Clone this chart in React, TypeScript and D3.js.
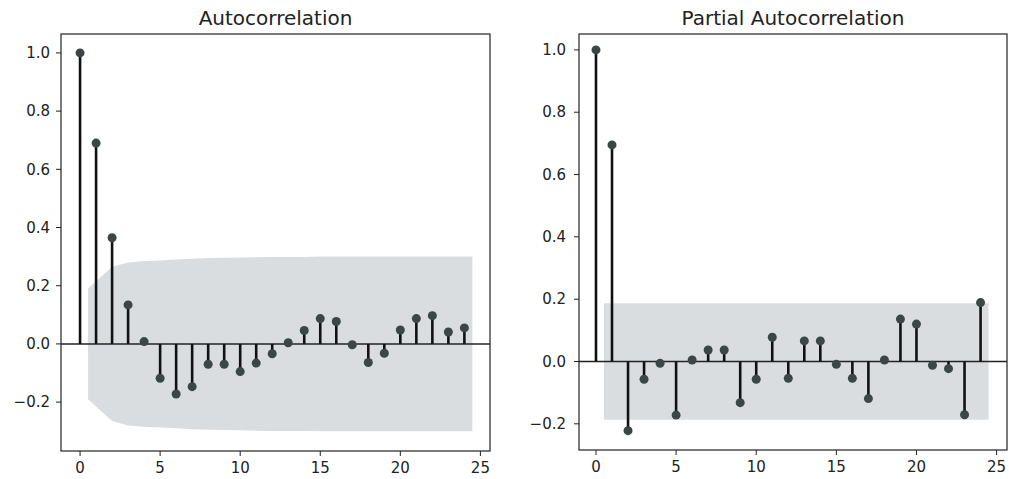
import React from "react";
import * as d3 from "d3";

const lags = d3.range(0, 25);

const acfValues = [1.0, 0.69, 0.365, 0.134, 0.008, -0.118, -0.172, -0.147, -0.07, -0.07, -0.095, -0.066, -0.034, 0.004, 0.046, 0.087, 0.077, -0.003, -0.064, -0.032, 0.048, 0.087, 0.097, 0.041, 0.055];
// upper confidence bound for lags 1..24 (band is symmetric around zero)
const acfBand = [0.19, 0.265, 0.28, 0.285, 0.287, 0.29, 0.293, 0.295, 0.296, 0.297, 0.298, 0.299, 0.299, 0.299, 0.3, 0.3, 0.3, 0.3, 0.3, 0.3, 0.3, 0.3, 0.3, 0.3];

const pacfValues = [1.0, 0.695, -0.222, -0.057, -0.006, -0.172, 0.005, 0.037, 0.037, -0.132, -0.057, 0.078, -0.054, 0.066, 0.066, -0.009, -0.054, -0.119, 0.005, 0.136, 0.12, -0.012, -0.023, -0.171, 0.189];
const pacfBand = [0.187, 0.187, 0.187, 0.187, 0.187, 0.187, 0.187, 0.187, 0.187, 0.187, 0.187, 0.187, 0.187, 0.187, 0.187, 0.187, 0.187, 0.187, 0.187, 0.187, 0.187, 0.187, 0.187, 0.187];

const xTicks = [0, 5, 10, 15, 20, 25];
const yTicks = [-0.2, 0.0, 0.2, 0.4, 0.6, 0.8, 1.0];

type PanelProps = {
  title: string;
  values: number[];
  band: number[];
  left: number;
  right: number;
  top: number;
  bottom: number;
  xDomain: [number, number];
  yDomain: [number, number];
  labelGap: number;
};

const FONT = "'DejaVu Sans', sans-serif";

function Panel(p: PanelProps) {
  const x = d3.scaleLinear().domain(p.xDomain).range([p.left, p.right]);
  const y = d3.scaleLinear().domain(p.yDomain).range([p.bottom, p.top]);

  const bandPts = p.band.map((b, i) => {
    let lx = i + 1;
    if (i === 0) lx -= 0.5;
    if (i === p.band.length - 1) lx += 0.5;
    return { lx, b };
  });
  const area = d3
    .area<{ lx: number; b: number }>()
    .x((d) => x(d.lx))
    .y0((d) => y(-d.b))
    .y1((d) => y(d.b))
    .curve(d3.curveLinear);

  const fmt = (v: number) => (v < 0 ? "\u2212" : "") + Math.abs(v).toFixed(1);

  return (
    <g>
      <text
        x={(p.left + p.right) / 2}
        y={25}
        textAnchor="middle"
        fontFamily={FONT}
        fontSize={20}
        fill="#222"
      >
        {p.title}
      </text>
      <path d={area(bandPts) || ""} fill="#dadde0" />
      <line x1={p.left} x2={p.right} y1={y(0)} y2={y(0)} stroke="#222" strokeWidth={1.5} />
      {p.values.map((v, i) => (
        <line
          key={"s" + i}
          x1={x(lags[i])}
          x2={x(lags[i])}
          y1={y(0)}
          y2={y(v)}
          stroke="#111"
          strokeWidth={2.6}
        />
      ))}
      {p.values.map((v, i) => (
        <circle key={"c" + i} cx={x(lags[i])} cy={y(v)} r={4.5} fill="#3c4646" />
      ))}
      <rect
        x={p.left}
        y={p.top}
        width={p.right - p.left}
        height={p.bottom - p.top}
        fill="none"
        stroke="#222"
        strokeWidth={1.2}
      />
      {yTicks.map((t) => (
        <g key={"y" + t}>
          <line x1={p.left - 5} x2={p.left} y1={y(t)} y2={y(t)} stroke="#222" strokeWidth={1} />
          <text
            x={p.left - p.labelGap}
            y={y(t)}
            dy="0.35em"
            textAnchor="end"
            fontFamily={FONT}
            fontSize={15}
            fill="#222"
          >
            {fmt(t)}
          </text>
        </g>
      ))}
      {xTicks.map((t) => (
        <g key={"x" + t}>
          <line x1={x(t)} x2={x(t)} y1={p.bottom} y2={p.bottom + 5} stroke="#222" strokeWidth={1} />
          <text
            x={x(t)}
            y={p.bottom + 22}
            textAnchor="middle"
            fontFamily={FONT}
            fontSize={15}
            fill="#222"
          >
            {t}
          </text>
        </g>
      ))}
    </g>
  );
}

export default function App() {
  return (
    <div style={{ position: "absolute", left: 0, top: 0 }}>
      <svg width={1009} height={479} style={{ display: "block", background: "#fff" }}>
        <Panel
          title="Autocorrelation"
          values={acfValues}
          band={acfBand}
          left={61}
          right={490}
          top={34}
          bottom={451}
          xDomain={[-1.19, 25.6]}
          yDomain={[-0.368, 1.065]}
          labelGap={11}
        />
        <Panel
          title="Partial Autocorrelation"
          values={pacfValues}
          band={pacfBand}
          left={579}
          right={1007}
          top={34}
          bottom={450}
          xDomain={[-1.06, 25.65]}
          yDomain={[-0.284, 1.051]}
          labelGap={13}
        />
      </svg>
    </div>
  );
}
